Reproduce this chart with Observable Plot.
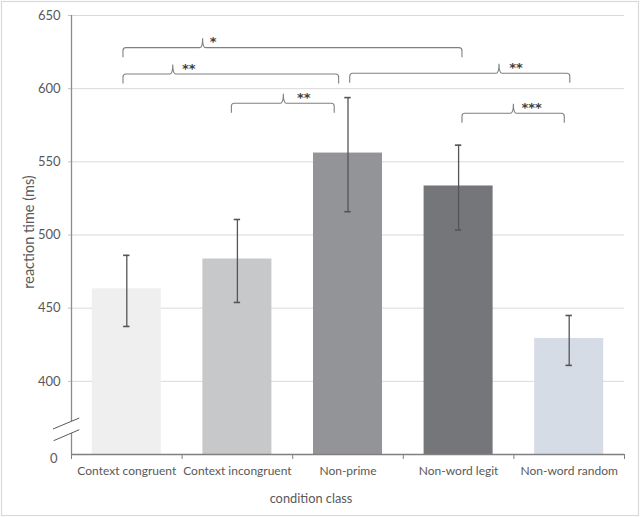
<!DOCTYPE html>
<html><head><meta charset="utf-8">
<script src="https://cdn.jsdelivr.net/npm/d3@7"></script>
<script src="https://cdn.jsdelivr.net/npm/@observablehq/plot@0.6"></script>
<style>body{margin:0;background:#fff}</style>
</head><body><div id="chart"></div>
<script>
// ---- data ----
const categories = ["Context congruent", "Context incongruent", "Non-prime", "Non-word legit", "Non-word random"];
const means   = [463.2, 483.6, 556.0, 533.5, 429.3];
const errLow  = [437.5, 453.9, 515.9, 503.4, 410.9];
const errHigh = [486.1, 510.6, 593.9, 561.4, 445.0];
const barColors = ["#efefef", "#c7c8ca", "#939497", "#75767a", "#d6dce5"];
const yTicks = [400, 450, 500, 550, 600, 650];
const yFloor = 350;           // broken axis: this value is labelled "0"
const yFloorLabel = "0";
// significance brackets (x in category-index units, y in ms)
const bracketFrom  = [-0.03, -0.03, 0.95, 2.02, 3.035];
const bracketTo    = [3.035, 1.92, 1.88, 4.01, 3.96];
const bracketNotch = [0.69, 0.42, 1.42, 3.37, 3.50];
const bracketLevel = [627.7, 609.7, 589.7, 610.2, 582.9];
const bracketStarX = [0.78, 0.56, 1.60, 3.52, 3.66];
const bracketStars = ["*", "**", "**", "**", "***"];

const data = categories.map((c, i) => ({i, c, mean: means[i], lo: errLow[i], hi: errHigh[i], color: barColors[i]}));
const brackets = bracketStars.map((s, k) => ({x1: bracketFrom[k], x2: bracketTo[k], xn: bracketNotch[k], y: bracketLevel[k], sx: bracketStarX[k], stars: s}));
const bounds = d3.range(categories.length + 1).map(k => k - 0.5);
const halfBar = 0.312, halfCap = 0.029;

function bracketMark(index, scales) {
  const g = d3.create("svg:g").attr("fill", "none").attr("stroke", "#808080").attr("stroke-width", 1.1);
  for (const b of brackets) {
    const x1 = scales.x(b.x1), x2 = scales.x(b.x2), xn = scales.x(b.xn), y = scales.y(b.y);
    const drop = 9.5, up = 9.5, r = 3;
    const d = `M${x1},${y + drop} L${x1},${y + r} Q${x1},${y} ${x1 + r},${y} L${xn - r},${y} Q${xn},${y} ${xn},${y - up}` +
              ` Q${xn},${y} ${xn + r},${y} L${x2 - r},${y} Q${x2},${y} ${x2},${y + r} L${x2},${y + drop}`;
    g.append("path").attr("d", d);
  }
  return g.node();
}

function breakMark(index, scales) {
  const x0 = scales.x(-0.5), yb = scales.y(yFloor);
  const g = d3.create("svg:g");
  g.append("polygon")
    .attr("points", `${x0 - 18},${yb - 25} ${x0 + 8.3},${yb - 36} ${x0 + 8.3},${yb - 24.3} ${x0 - 17.4},${yb - 13.3}`)
    .attr("fill", "white");
  g.append("line").attr("x1", x0 - 18).attr("y1", yb - 25).attr("x2", x0 + 8.3).attr("y2", yb - 36)
    .attr("stroke", "#595959").attr("stroke-width", 1);
  g.append("line").attr("x1", x0 - 17.4).attr("y1", yb - 13.3).attr("x2", x0 + 8.3).attr("y2", yb - 24.3)
    .attr("stroke", "#595959").attr("stroke-width", 1);
  return g.node();
}

function borderMark(index, scales, values, dims) {
  return d3.create("svg:rect").attr("x", 1.5).attr("y", 1.5)
    .attr("width", dims.width - 3).attr("height", dims.height - 3)
    .attr("fill", "none").attr("stroke", "#d9d9d9").attr("stroke-width", 1.2).node();
}

const plot = Plot.plot({
  width: 640,
  height: 517,
  marginTop: 15,
  marginBottom: 63,
  marginLeft: 71,
  marginRight: 16,
  style: {fontFamily: "Lato, 'Open Sans', sans-serif", fontSize: "12px", color: "#595959", background: "white"},
  x: {type: "linear", domain: [-0.5, categories.length - 0.5], axis: null},
  y: {domain: [yFloor, 650], axis: null},
  marks: [
    borderMark,
    Plot.ruleY(yTicks, {stroke: "#d9d9d9", strokeWidth: 1}),
    Plot.rectY(data, {x1: d => d.i - halfBar, x2: d => d.i + halfBar, y1: yFloor, y2: "mean", fill: "color"}),
    Plot.ruleX(data, {x: "i", y1: "lo", y2: "hi", stroke: "#555555", strokeWidth: 1.3}),
    Plot.ruleY(data, {y: "hi", x1: d => d.i - halfCap, x2: d => d.i + halfCap, stroke: "#555555", strokeWidth: 1.6}),
    Plot.ruleY(data, {y: "lo", x1: d => d.i - halfCap, x2: d => d.i + halfCap, stroke: "#555555", strokeWidth: 1.6}),
    Plot.ruleX([-0.5], {stroke: "#8c8c8c", strokeWidth: 1.3}),
    Plot.ruleY([yFloor], {stroke: "#7f7f7f", strokeWidth: 1.5}),
    breakMark,
    Plot.axisY({ticks: yTicks, tickSize: 3, tickPadding: 8, stroke: "#bfbfbf", fill: "#595959", fontSize: 13, label: null}),
    Plot.text([yFloor], {x: -0.5, y: d => d, text: () => yFloorLabel, dx: -14, dy: 4, textAnchor: "end", fill: "#595959", fontSize: 13}),
    Plot.axisX({ticks: bounds, tickSize: 5, tickFormat: () => "", stroke: "#7f7f7f", label: null}),
    Plot.axisX({ticks: d3.range(categories.length), tickSize: 0, tickPadding: 12, tickFormat: i => categories[i], fill: "#595959", label: null}),
    Plot.text(["condition class"], {frameAnchor: "bottom", textAnchor: "middle", lineAnchor: "middle", dx: -37, dy: 44, fill: "#595959", fontSize: 12.8}),
    Plot.text(["reaction time (ms)"], {frameAnchor: "left", textAnchor: "middle", lineAnchor: "middle", rotate: -90, dx: -42, dy: -3, fill: "#595959", fontSize: 14.5}),
    bracketMark,
    Plot.text(brackets, {x: "sx", y: "y", text: "stars", dy: -6, rotate: 0.01, fontSize: 13, fontWeight: "bold", fill: "#404040", fontFamily: "DejaVu Sans"})
  ]
});
document.getElementById("chart").append(plot);
</script>
</body></html>
